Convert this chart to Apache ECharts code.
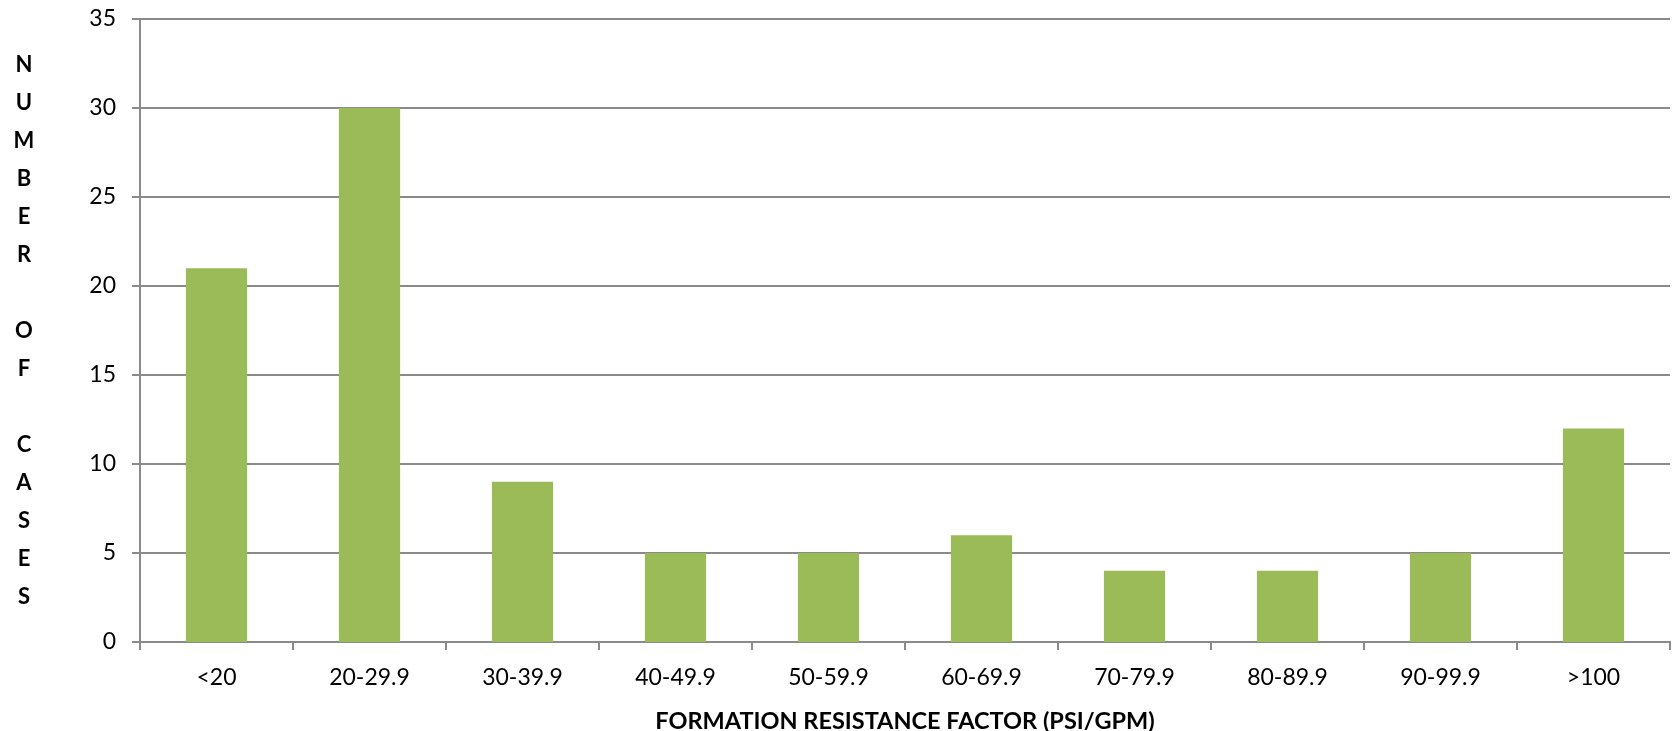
<!DOCTYPE html>
<html>
<head>
<meta charset="utf-8">
<style>
  html, body { margin: 0; padding: 0; background: #fff; }
  #chart { width: 1675px; height: 731px; }
</style>
<script src="https://cdn.jsdelivr.net/npm/echarts@6/dist/echarts.min.js"></script>
</head>
<body>
<div id="chart"></div>
<script>
// Formation resistance factor bins and how many cases fall in each
const categories = ['<20', '20-29.9', '30-39.9', '40-49.9', '50-59.9', '60-69.9', '70-79.9', '80-89.9', '90-99.9', '>100'];
const caseCounts = [21, 30, 9, 5, 5, 6, 4, 4, 5, 12];
const yTicks = { min: 0, max: 35, interval: 5 };
const xTitle = 'FORMATION RESISTANCE FACTOR (PSI/GPM)';
const yTitleWords = ['NUMBER', 'OF', 'CASES'];

const FONT = 'Lato, "Open Sans", "Liberation Sans", sans-serif';
const GRID_GRAY = '#8a8a8a';

// stack the y title one letter per line, blank line between words
const yTitle = yTitleWords.map(w => w.split('').join('\n')).join('\n\n');

const chart = echarts.init(document.getElementById('chart'), null, { renderer: 'canvas' });
chart.setOption({
  animation: false,
  backgroundColor: '#ffffff',
  grid: { left: 140, right: 5, top: 19, bottom: 89, containLabel: false, outerBoundsMode: 'none' },
  xAxis: {
    type: 'category',
    data: categories,
    name: xTitle,
    nameLocation: 'middle',
    nameGap: 67,
    nameTextStyle: { fontFamily: FONT, fontWeight: 'bold', fontSize: 23.5, color: '#000' },
    axisLine: { lineStyle: { color: GRID_GRAY, width: 2 } },
    axisTick: { show: true, alignWithLabel: false, length: 8, lineStyle: { color: GRID_GRAY, width: 2 } },
    axisLabel: { fontFamily: FONT, fontSize: 23, color: '#000', margin: 24, interval: 0 },
    splitLine: { show: false }
  },
  yAxis: {
    type: 'value',
    min: yTicks.min,
    max: yTicks.max,
    interval: yTicks.interval,
    name: yTitle,
    nameLocation: 'middle',
    nameRotate: 0,
    nameGap: 116,
    nameTextStyle: { fontFamily: FONT, fontWeight: 'bold', fontSize: 22, color: '#000', lineHeight: 38, align: 'center', verticalAlign: 'middle' },
    axisLine: { show: true, lineStyle: { color: GRID_GRAY, width: 2 } },
    axisTick: { show: true, length: 8, lineStyle: { color: GRID_GRAY, width: 2 } },
    axisLabel: { fontFamily: FONT, fontSize: 23, color: '#000', margin: 24 },
    splitLine: { show: true, lineStyle: { color: GRID_GRAY, width: 2 } }
  },
  series: [{
    type: 'bar',
    data: caseCounts,
    barWidth: '40%',
    itemStyle: { color: '#9bbb59' }
  }]
});
</script>
</body>
</html>
